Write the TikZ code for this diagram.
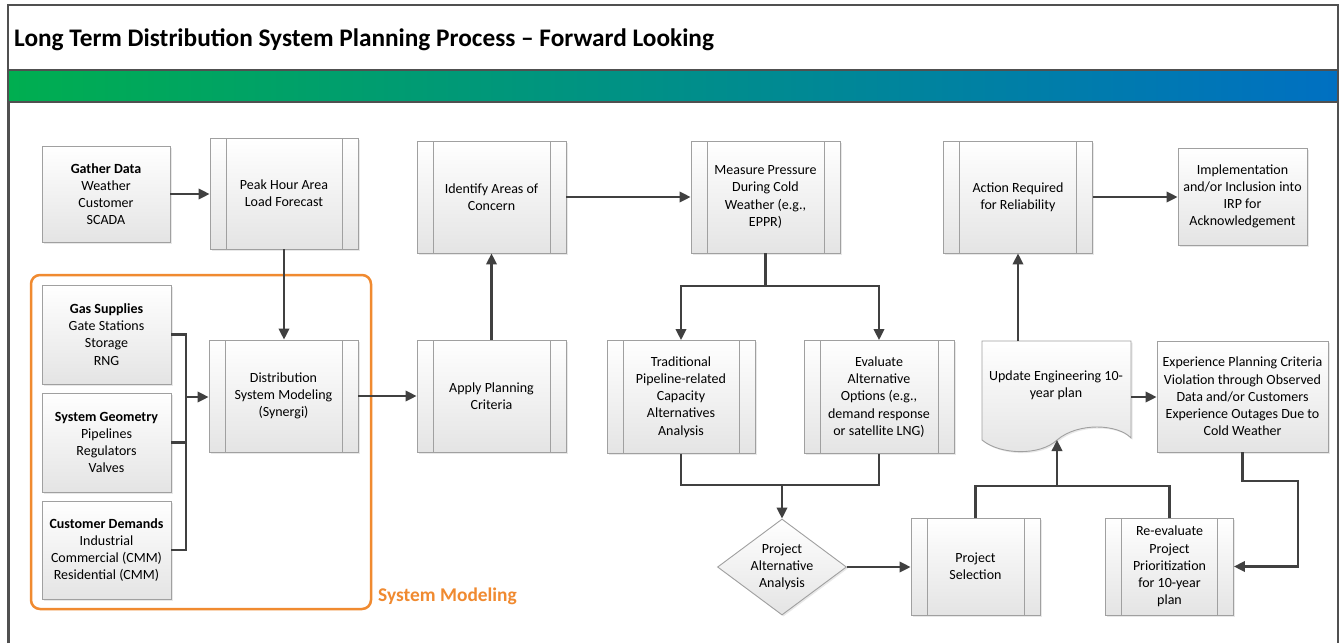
\documentclass[tikz,border=0pt]{standalone}
\usepackage{fontspec}
\setmainfont{Carlito}
\usetikzlibrary{arrows.meta,shadows,shapes.geometric}

\definecolor{lineC}{HTML}{404040}
\definecolor{boxB}{HTML}{A0A0A0}
\definecolor{orangeC}{HTML}{F08A30}
\definecolor{gGreen}{HTML}{00AE50}
\definecolor{gBlue}{HTML}{0070C2}
\definecolor{boxBot}{HTML}{E4E4E4}
\definecolor{frameC}{HTML}{505050}

\newcommand\mybody{\fontsize{14}{17.2}\selectfont}

\tikzset{
  box/.style={draw=boxB, line width=0.9pt, top color=white, bottom color=boxBot,
    drop shadow={shadow xshift=1.5pt,shadow yshift=-1.5pt,opacity=0.18},
    align=center, font=\mybody, inner sep=0pt},
  pproc/.style={box, path picture={
    \draw[boxB,line width=0.9pt]
      ([xshift=16pt]path picture bounding box.north west) -- ([xshift=16pt]path picture bounding box.south west)
      ([xshift=-16pt]path picture bounding box.north east) -- ([xshift=-16pt]path picture bounding box.south east);}},
  conn/.style={draw=lineC, line width=2.1pt, -{Triangle[length=11pt,width=10.5pt]}},
  plainline/.style={draw=lineC, line width=2.1pt},
  txt/.style={font=\mybody, align=center, inner sep=0pt},
}

\begin{document}
\begin{tikzpicture}[x=1pt,y=-1pt]
\useasboundingbox (0,0) rectangle (1340,643);
\fill[white] (0,0) rectangle (1340,643);

% frame and title
\shade[left color=gGreen, right color=gBlue] (8,70) rectangle (1338,102);
\draw[frameC, line width=1.2pt] (8,643) -- (8,5) -- (1338,5) -- (1338,643);
\draw[frameC, line width=1.8pt] (8,70) -- (1338,70) (8,102) -- (1338,102);
\draw[frameC, line width=2.4pt] (9,102) -- (9,643);
\node[anchor=base west, font=\fontsize{25.3}{29}\selectfont\bfseries, inner sep=0pt] (title) at (14,46)
  {Long Term Distribution System Planning Process – Forward Looking};

% system modeling group
\draw[orangeC, line width=2.5pt, rounded corners=9pt] (31,275) rectangle (371,609);
\node[anchor=base west, font=\fontsize{19.4}{22}\selectfont\bfseries, text=orangeC, inner sep=0pt] (sml) at (378,601) {System Modeling};

% nodes
\node[box, minimum width=128pt, minimum height=96pt] (gather) at (106,194)
  {\textbf{Gather Data}\\Weather\\Customer\\SCADA};
\node[pproc, minimum width=148pt, minimum height=111pt] (peak) at (284,193.5)
  {Peak Hour Area\\Load Forecast};
\node[box, minimum width=129pt, minimum height=99pt] (gas) at (106.5,334.5)
  {\textbf{Gas Supplies}\\Gate Stations\\Storage\\RNG};
\node[box, minimum width=129pt, minimum height=99pt] (geom) at (106.5,442.5)
  {\textbf{System Geometry}\\Pipelines\\Regulators\\Valves};
\node[box, minimum width=129pt, minimum height=98pt] (cust) at (106.5,550)
  {\textbf{Customer Demands}\\Industrial\\Commercial (CMM)\\Residential (CMM)};
\node[pproc, minimum width=149pt, minimum height=112pt] (dist) at (283.5,396)
  {Distribution\\System Modeling\\(Synergi)};
\node[pproc, minimum width=149pt, minimum height=112pt] (apply) at (491.5,396)
  {Apply Planning\\Criteria};
\node[pproc, minimum width=149pt, minimum height=112pt] (ident) at (491.5,197)
  {Identify Areas of\\Concern};
\node[pproc, minimum width=149pt, minimum height=112pt] (meas) at (765.5,197)
  {Measure Pressure\\During Cold\\Weather (e.g.,\\EPPR)};
\node[pproc, minimum width=148pt, minimum height=113pt] (trad) at (681,397)
  {Traditional\\Pipeline-related\\Capacity\\Alternatives\\Analysis};
\node[pproc, minimum width=150pt, minimum height=113pt] (eval) at (879,397)
  {Evaluate\\Alternative\\Options (e.g.,\\demand response\\or satellite LNG)};
\node[box, diamond, aspect=1.34, minimum width=129pt, minimum height=96pt] (diam) at (782,567)
  {Project\\Alternative\\Analysis};
\node[pproc, minimum width=129pt, minimum height=97pt] (psel) at (975.5,566.5)
  {Project\\Selection};
\node[pproc, minimum width=128pt, minimum height=97pt] (reev) at (1169.5,566.5)
  {Re-evaluate\\Project\\Prioritization\\for 10-year\\plan};
\node[box, minimum width=171pt, minimum height=111pt] (exp) at (1242.5,396.5)
  {Experience Planning Criteria\\Violation through Observed\\Data and/or Customers\\Experience Outages Due to\\Cold Weather};
\node[pproc, minimum width=149pt, minimum height=112pt] (action) at (1018,197)
  {Action Required\\for Reliability};
\node[box, minimum width=129pt, minimum height=97pt] (impl) at (1242.5,196.5)
  {Implementation\\and/or Inclusion into\\IRP for\\Acknowledgement};

% document shape
\path[box] (982,341) -- (1131,341) -- (1131,438)
  .. controls (1118,424) and (1078,422) .. (1057,440)
  .. controls (1040,456) and (1000,455) .. (982,440) -- cycle;
\node[txt] (doc) at (1056,385) {Update Engineering 10-\\year plan};
\coordinate (docT) at (1018,341);
\coordinate (docB) at (1057,440);
\coordinate (docR) at (1131,397);

% connectors
\draw[conn] (gather.east) -- (gather.east -| peak.west);
\draw[conn] (peak.south) -- (peak.south |- dist.north);
\coordinate (bus) at (186,397);
\draw[plainline] (gas.east) -| (bus |- cust.east) -- (cust.east);
\draw[plainline] (geom.east) -- (geom.east -| bus);
\draw[conn] (bus) -- (bus -| dist.west);
\draw[conn] (dist.east) -- (dist.east -| apply.west);
\draw[conn] (apply.north) -- (apply.north |- ident.south);
\draw[conn] (ident.east) -- (ident.east -| meas.west);
\coordinate (s1) at (765.5,286);
\draw[plainline] (meas.south) -- (s1);
\draw[conn] (s1) -| (trad.north);
\draw[conn] (s1) -| (eval.north);
\coordinate (j1) at (782,485);
\draw[plainline] (trad.south) |- (j1);
\draw[plainline] (eval.south) |- (j1);
\draw[conn] (j1) -- (diam.north);
\draw[conn] (diam.east) -- (diam.east -| psel.west);
\coordinate (j2) at (1057,486);
\draw[plainline] (psel.north) |- (reev.north |- j2) -- (reev.north);
\draw[conn] (j2) -- (docB);
\draw[conn] (docT) -- (docT |- action.south);
\draw[conn] (docR) -- (docR -| exp.west);
\draw[conn] (action.east) -- (action.east -| impl.west);
\coordinate (c1) at (1298,481);
\draw[conn] (exp.south) |- (c1) |- (reev.east);
\end{tikzpicture}
\end{document}
